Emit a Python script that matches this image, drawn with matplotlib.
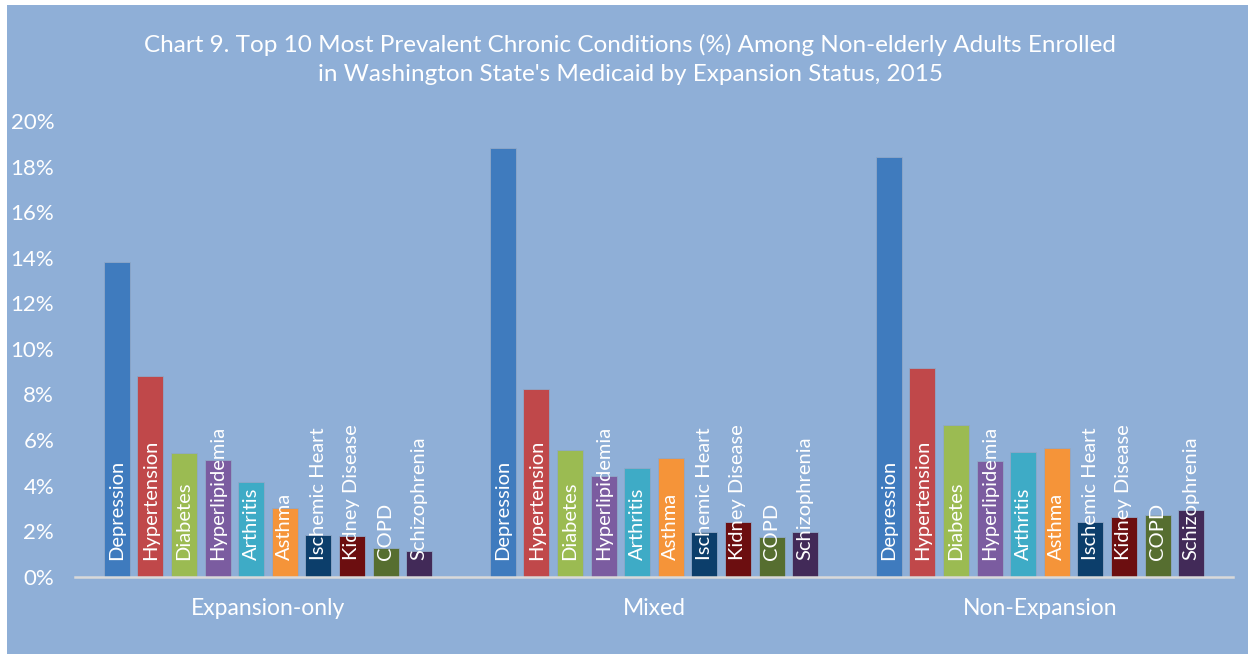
import matplotlib

matplotlib.use("Agg")
import matplotlib.pyplot as plt
import numpy as np
from matplotlib.patches import Rectangle
from matplotlib.ticker import FuncFormatter

plt.rcParams["font.family"] = ["Lato", "DejaVu Sans"]

groups = ["Expansion-only", "Mixed", "Non-Expansion"]
conditions = [
    "Depression", "Hypertension", "Diabetes", "Hyperlipidemia", "Arthritis",
    "Asthma", "Ischemic Heart", "Kidney Disease", "COPD", "Schizophrenia",
]
expansion_only = [13.8, 8.8, 5.45, 5.1, 4.15, 3.0, 1.83, 1.79, 1.27, 1.14]
mixed = [18.8, 8.24, 5.58, 4.44, 4.76, 5.2, 1.98, 2.39, 1.76, 1.98]
non_expansion = [18.4, 9.16, 6.65, 5.08, 5.47, 5.63, 2.39, 2.64, 2.70, 2.92]
colors = [
    "#3F7BBE", "#C0484A", "#9BBB52", "#7B5CA0", "#3EABC6",
    "#F59439", "#0C3E6B", "#6C0E10", "#566E30", "#422A58",
]
BG = "#8FAFD7"

values = np.array([expansion_only, mixed, non_expansion])

fig = plt.figure(figsize=(12.48, 6.54), dpi=100, facecolor="white")
# blue chart area, leaving the thin white strip on the top and left
fig.patches.append(Rectangle((7 / 1248, 0), 1241 / 1248, 649 / 654,
                             transform=fig.transFigure, facecolor=BG,
                             edgecolor="none", zorder=-10))

ax = fig.add_axes([75 / 1248, 77.3 / 654, 1158 / 1248, 455.7 / 654])
ax.set_facecolor("none")

x = np.arange(len(groups))
step = 0.087
width = 0.0674
for i, cond in enumerate(conditions):
    pos = x + (i - 4.5) * step
    ax.bar(pos, values[:, i], width=width, color=colors[i],
           edgecolor="#8FA8C8", linewidth=0.6, zorder=2)
    for p in pos:
        ax.text(p, 0.72, cond, rotation=90, ha="center", va="bottom",
                color="white", fontsize=14.5, zorder=3)

ax.set_xlim(-0.5, 2.5)
ax.set_ylim(0, 20)
ax.set_yticks(np.arange(0, 21, 2))
ax.yaxis.set_major_formatter(FuncFormatter(lambda v, _: f"{v:.0f}%"))
ax.set_xticks(x)
ax.set_xticklabels(groups)
ax.tick_params(axis="y", length=0, pad=15, labelsize=16, labelcolor="white")
ax.tick_params(axis="x", length=0, pad=15.5, labelsize=16.5, labelcolor="white")

for side in ["top", "right", "left"]:
    ax.spines[side].set_visible(False)
ax.spines["bottom"].set_color("#D9D9D9")
ax.spines["bottom"].set_linewidth(1.8)
ax.spines["bottom"].set_zorder(4)

fig.text(630 / 1248, 1 - 59.5 / 654,
         "Chart 9. Top 10 Most Prevalent Chronic Conditions (%) Among Non-elderly Adults Enrolled\n"
         "in Washington State's Medicaid by Expansion Status, 2015",
         ha="center", va="center", color="white", fontsize=17.5, linespacing=1.48)

fig.savefig("out.png", dpi=100, facecolor="white")
